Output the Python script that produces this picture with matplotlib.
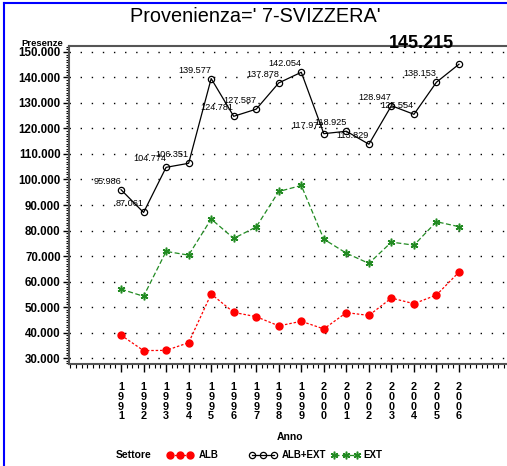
import matplotlib
matplotlib.use("Agg")
import matplotlib.pyplot as plt
from matplotlib.lines import Line2D
from matplotlib.ticker import FuncFormatter, MultipleLocator

years = list(range(1991, 2007))
alb = [38950, 32900, 33000, 36000, 55100, 47900, 46200, 42600, 44400, 41400,
       47800, 46700, 53500, 51300, 54700, 63700]
alb_ext = [95986, 87061, 104774, 106351, 139577, 124781, 127587, 137878, 142054,
           117972, 118925, 113829, 128947, 125554, 138153, 145215]
ext = [57000, 54200, 71800, 70350, 84500, 76900, 81400, 95300, 97650, 76600,
       71100, 67100, 75450, 74250, 83450, 81500]
title = "Provenienza=' 7-SVIZZERA'"
ylab = "Presenze"
xlab = "Anno"
legend_title = "Settore"
series_names = ["ALB", "ALB+EXT", "EXT"]

FONT = ['Liberation Sans', 'DejaVu Sans']
plt.rcParams['font.family'] = FONT

W, H = 507, 466
fig = plt.figure(figsize=(W / 100, H / 100), dpi=100)

def fx(px):
    return px / W

def fy(py):
    return 1 - py / H

left, right, top, bottom = 69, 507, 46, 364
ax = fig.add_axes([fx(left), fy(bottom), fx(right - left), (bottom - top) / H])

green = '#228B22'
alb_style = dict(color='red', ls=(0, (2, 1.5)), lw=0.9, marker='o', ms=5,
                 mfc='red', mec='red')
tot_style = dict(color='black', ls='-', lw=0.9, marker='o', ms=4.5,
                 mfc='none', mec='black', mew=0.9)
ext_style = dict(color=green, ls=(0, (4, 2)), lw=0.9, marker=(6, 2, 0), ms=5.5,
                 mec=green, mew=1.1)

ax.plot(years, alb, zorder=3, **alb_style)
ax.plot(years, alb_ext, zorder=3, **tot_style)
ax.plot(years, ext, zorder=3, **ext_style)

for i, (x, v) in enumerate(zip(years, alb_ext)):
    s = f"{v:,}".replace(",", ".")
    if i == len(years) - 1:
        ax.annotate(s, (x, v), xytext=(-5, 12), textcoords='offset pixels',
                    ha='right', va='bottom', fontsize=13, fontweight='bold',
                    zorder=4)
    else:
        ax.annotate(s, (x, v), xytext=(0, 4), textcoords='offset pixels',
                    ha='right', va='bottom', fontsize=6.6, zorder=4)

ax.set_xlim(1988.69, 2008.13)
ax.set_ylim(27650, 152350)
ax.set_yticks(range(30000, 150001, 10000))
ax.yaxis.set_major_formatter(FuncFormatter(lambda v, p: f"{int(v):,}".replace(",", ".")))
ax.yaxis.set_minor_locator(MultipleLocator(1000))
ax.set_xticks(years)
ax.set_xticklabels(["\n".join(str(y)) for y in years], linespacing=0.97)
ax.xaxis.set_minor_locator(MultipleLocator(0.25))

ax.grid(axis='y', which='major', color='black', ls=(0, (1, 7)), lw=1)
for sp in ['left', 'bottom', 'top']:
    ax.spines[sp].set_color('#555555')
    ax.spines[sp].set_linewidth(1.5)
ax.spines['right'].set_visible(False)

ax.tick_params(axis='y', which='major', length=4, width=1, pad=2, labelsize=8.3)
ax.tick_params(axis='y', which='minor', length=2, width=0.8)
ax.tick_params(axis='x', which='major', length=6, width=1, pad=7, labelsize=7.8)
ax.tick_params(axis='x', which='minor', length=3, width=0.8)
for lab in ax.get_yticklabels() + ax.get_xticklabels():
    lab.set_fontweight('bold')

fig.text(fx(255), fy(17), title, ha='center', va='center', fontsize=14.3)
fig.text(fx(63), fy(43), ylab, ha='right', va='center', fontsize=6.8,
         fontweight='bold')
fig.text(fx(290), fy(437), xlab, ha='center', va='center', fontsize=7.5,
         fontweight='bold')

ly = fy(455)
fig.text(fx(116), ly, legend_title, ha='left', va='center', fontsize=7.5,
         fontweight='bold')
specs = [(170, 190, alb_style), (252, 274, tot_style), (334, 357, ext_style)]
text_x = [199, 282, 363]
for (x0, x1, kw), tx, name in zip(specs, text_x, series_names):
    xm = (x0 + x1) / 2
    fig.add_artist(Line2D([fx(x0), fx(xm), fx(x1)], [ly, ly, ly],
                          transform=fig.transFigure, **kw))
    fig.text(fx(tx), ly, name, ha='left', va='center', fontsize=7,
             fontweight='bold')

# blue frame
fig.add_artist(Line2D([fx(4), fx(4)], [0, fy(3)], transform=fig.transFigure,
                      color='blue', lw=1.5))
fig.add_artist(Line2D([fx(4), 1], [fy(3), fy(3)], transform=fig.transFigure,
                      color='blue', lw=1.5))

fig.savefig("out.png", dpi=100)
